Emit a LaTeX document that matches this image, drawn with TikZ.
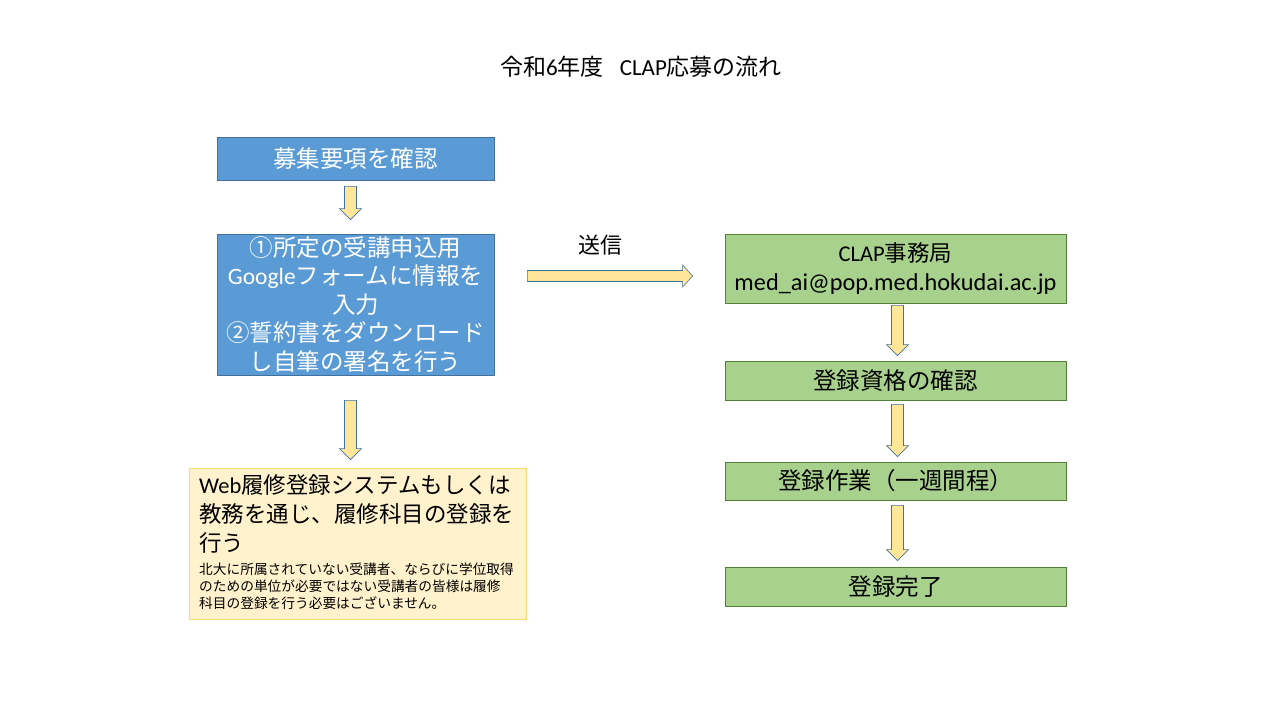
\documentclass[tikz,border=0pt]{standalone}
\usepackage{fontspec}
\setmainfont{Noto Sans CJK JP}
\newfontfamily\lat{Carlito}
\usetikzlibrary{calc,positioning}

\definecolor{boxblue}{HTML}{5B9BD5}
\definecolor{blueline}{HTML}{41719C}
\definecolor{boxgreen}{HTML}{A9D18E}
\definecolor{greenline}{HTML}{548235}
\definecolor{boxyellow}{HTML}{FFF2CC}
\definecolor{yellowline}{HTML}{FFD966}
\definecolor{arrowfill}{HTML}{FFE699}

% block arrow pointing down, from #1 to #2
\newcommand{\downblock}[2]{%
\draw[blockarrow] ($(#1)+(-6,0)$) -- ($(#2)+(-6,-11)$) -- ($(#2)+(-11,-11)$) -- (#2)
  -- ($(#2)+(11,-11)$) -- ($(#2)+(6,-11)$) -- ($(#1)+(6,0)$) -- cycle;}

\begin{document}
\begin{tikzpicture}[x=1pt,y=-1pt,
  bluebox/.style={draw=blueline, fill=boxblue, text=white, line width=0.8pt,
    minimum width=277pt, inner sep=0pt, align=center},
  greenbox/.style={draw=greenline, fill=boxgreen, text=black, line width=0.8pt,
    minimum width=341pt, inner sep=0pt, align=center,
    font=\fontsize{23.5}{28}\selectfont},
  notebox/.style={draw=yellowline, fill=boxyellow, line width=0.8pt,
    minimum width=337pt, minimum height=151pt, inner sep=0pt},
  blockarrow/.style={draw=blueline, fill=arrowfill, line width=0.6pt, line join=miter}]
\useasboundingbox[fill=white] (0,0) rectangle (1280,720);

% title
\node (title) at (641,67) {\fontsize{23}{26}\selectfont 令和{\lat 6}年度\hspace{0.7em}{\lat CLAP}応募の流れ};

% left column
\node[bluebox, minimum height=43pt, font=\fontsize{23.5}{28}\selectfont] (recruit) at (355.5,158.5) {募集要項を確認};
\node[bluebox, minimum height=141pt, font=\fontsize{23.5}{28.5}\selectfont] (entry) at (355.5,304.5)
  {①所定の受講申込用\\{\lat Google}フォームに情報を\\入力\\②誓約書をダウンロード\\し自筆の署名を行う};
\node[notebox] (course) at (357.5,543.5) {};
\node[anchor=north west, inner sep=0pt, align=left, font=\fontsize{22.5}{29}\selectfont] (coursetext) at (199,474)
  {{\lat Web}履修登録システムもしくは\\教務を通じ、履修科目の登録を\\行う};
\node[anchor=north west, inner sep=0pt, align=left, font=\fontsize{13.7}{17}\selectfont] (coursenote) at (199,563)
  {北大に所属されていない受講者、ならびに学位取得\\のための単位が必要ではない受講者の皆様は履修\\科目の登録を行う必要はございません。};

% right column
\node[greenbox, minimum height=69pt, font=\fontsize{22.5}{29}\selectfont] (office) at (895.5,268.5)
  {{\lat CLAP}事務局\\{\lat\fontsize{24.3}{29}\selectfont med\_ai@pop.med.hokudai.ac.jp}};
\node[greenbox, minimum height=39pt] (check) at (895.5,380.5) {登録資格の確認};
\node[greenbox, minimum height=38pt] (work) at (895.5,481) {登録作業（一週間程）};
\node[greenbox, minimum height=39pt] (done) at (895.5,586.5) {登録完了};

% arrows
\coordinate (a1s) at ($(recruit.south)+(-5,6)$);
\coordinate (a1e) at ($(entry.north)+(-5,-14)$);
\coordinate (a2s) at ($(entry.south)+(-5,25)$);
\coordinate (a2e) at ($(course.north)+(-7,-8)$);
\coordinate (a3s) at ($(office.south)+(2,2)$);
\coordinate (a3e) at ($(check.north)+(2,-5)$);
\coordinate (a4s) at ($(check.south)+(2,4)$);
\coordinate (a4e) at ($(work.north)+(2,-5)$);
\coordinate (a5s) at ($(work.south)+(2,5)$);
\coordinate (a5e) at ($(done.north)+(2,-6)$);
\downblock{a1s}{a1e}
\downblock{a2s}{a2e}
\downblock{a3s}{a3e}
\downblock{a4s}{a4e}
\downblock{a5s}{a5e}

\coordinate (sends) at ($(entry.east)+(33,-28.5)$);
\coordinate (sende) at ($(office.west)+(-32,7.5)$);
\draw[blockarrow] ($(sends)+(0,-5.5)$) -- ($(sende)+(-10,-5.5)$) -- ($(sende)+(-10,-11)$) -- (sende)
  -- ($(sende)+(-10,11)$) -- ($(sende)+(-10,5.5)$) -- ($(sends)+(0,5.5)$) -- cycle;
\node[font=\fontsize{22}{26}\selectfont] (send) at (600,245) {送信};
\end{tikzpicture}
\end{document}
